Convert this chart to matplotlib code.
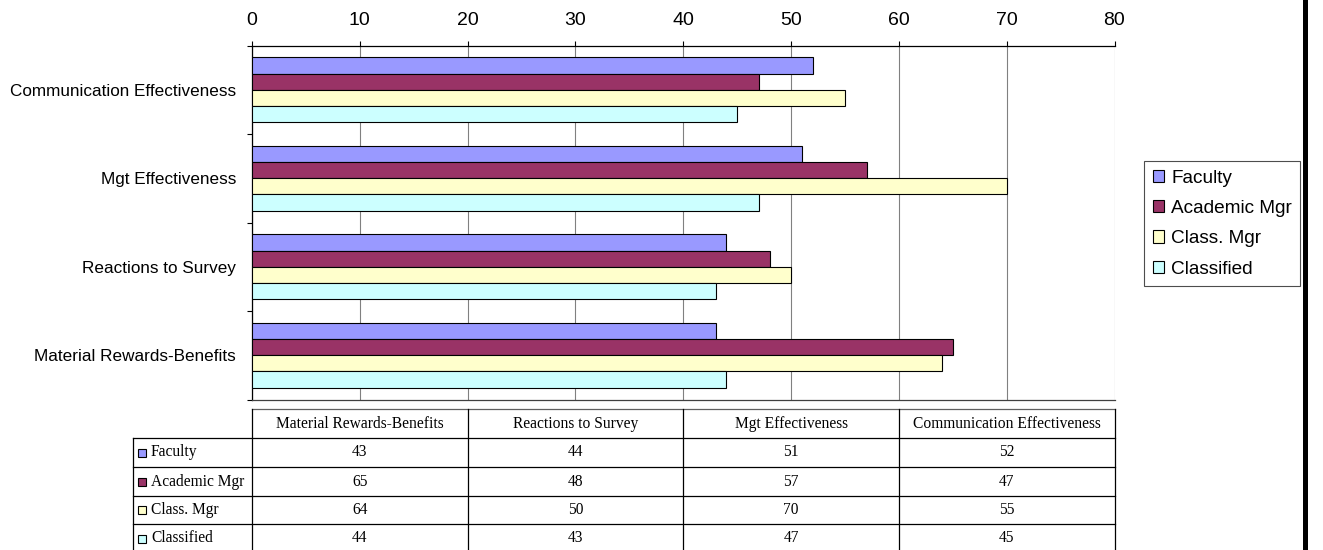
import matplotlib
matplotlib.use("Agg")
import matplotlib.pyplot as plt
from matplotlib.patches import Patch, Rectangle
from matplotlib.lines import Line2D

# ---- data ----
categories = ["Material Rewards-Benefits", "Reactions to Survey",
              "Mgt Effectiveness", "Communication Effectiveness"]
series_names = ["Faculty", "Academic Mgr", "Class. Mgr", "Classified"]
faculty = [43, 44, 51, 52]
academic_mgr = [65, 48, 57, 47]
class_mgr = [64, 50, 70, 55]
classified = [44, 43, 47, 45]
x_ticks = [0, 10, 20, 30, 40, 50, 60, 70, 80]

series_values = [faculty, academic_mgr, class_mgr, classified]
colors = ["#9999FF", "#993366", "#FFFFCC", "#CCFFFF"]

W, H = 1323, 550
fig = plt.figure(figsize=(W / 100, H / 100), dpi=100)
fig.patch.set_facecolor("white")

SANS = "Liberation Sans"
SERIF = "Liberation Serif"

# plot area in pixel coordinates
left, right, top, bottom = 252, 1114.5, 45.5, 399.5
ax = fig.add_axes([left / W, 1 - bottom / H, (right - left) / W, (bottom - top) / H])

bar_h = 0.183
n = len(series_names)
for i, (name, vals, col) in enumerate(zip(series_names, series_values, colors)):
    offset = (n / 2 - 0.5 - i) * bar_h
    ypos = [k + offset for k in range(len(categories))]
    ax.barh(ypos, vals, height=bar_h, color=col, edgecolor="black",
            linewidth=0.8, zorder=3, label=name)

ax.set_xlim(0, 80)
ax.set_ylim(-0.5, len(categories) - 0.5)
ax.set_xticks(x_ticks)
ax.xaxis.tick_top()
ax.tick_params(axis="x", which="both", top=True, bottom=False, length=3.6,
               width=0.8, pad=8, labelsize=14, colors="black")
for lbl in ax.get_xticklabels():
    lbl.set_fontfamily(SANS)
ax.xaxis.grid(True, color="#808080", linewidth=0.8, zorder=0)

ax.set_yticks(range(len(categories)))
ax.set_yticklabels(categories, fontfamily=SANS, fontsize=12.3)
ax.set_yticks([k - 0.5 for k in range(len(categories) + 1)], minor=True)
ax.tick_params(axis="y", which="major", length=0, pad=11.5)
ax.tick_params(axis="y", which="minor", length=3.6, width=0.8)

ax.spines["right"].set_visible(False)
ax.spines["top"].set_color("black")
ax.spines["left"].set_color("black")
ax.spines["bottom"].set_color("#404040")
for s in ax.spines.values():
    s.set_linewidth(0.9)

# legend
handles = [Patch(facecolor=c, edgecolor="black", linewidth=0.8) for c in colors]
leg = fig.legend(handles, series_names, loc="upper left",
                 bbox_to_anchor=(1144 / W, 1 - 161 / H),
                 prop={"family": SANS, "size": 13.7}, frameon=True, fancybox=False,
                 handlelength=0.62, handleheight=0.62, handletextpad=0.35,
                 labelspacing=0.7, borderpad=0.45, borderaxespad=0.0)
leg.get_frame().set_edgecolor("#202020")
leg.get_frame().set_linewidth(0.8)

# data table drawn in pixel space
tax = fig.add_axes([0, 0, 1, 1])
tax.set_xlim(0, W)
tax.set_ylim(H, 0)
tax.axis("off")

col_edges = [left + (right - left) * k / len(categories) for k in range(len(categories) + 1)]
row_edges = [409, 438, 467, 496, 524, 553]
label_left = 133

lc = "black"
lw = 0.9
tfs = 11.2
# header row lines
tax.add_line(Line2D([col_edges[0], col_edges[-1]], [row_edges[0]] * 2, color="#606060", lw=lw))
for r in row_edges[1:]:
    tax.add_line(Line2D([label_left, col_edges[-1]], [r] * 2, color=lc, lw=lw))
for c in col_edges:
    tax.add_line(Line2D([c, c], [row_edges[0], row_edges[-1]], color=lc, lw=lw))
tax.add_line(Line2D([label_left, label_left], [row_edges[1], row_edges[-1]], color=lc, lw=lw))

for j, cat in enumerate(categories):
    cx = (col_edges[j] + col_edges[j + 1]) / 2
    cy = (row_edges[0] + row_edges[1]) / 2
    tax.text(cx, cy, cat, ha="center", va="center", fontsize=tfs, family=SERIF)

for i, (name, vals, col) in enumerate(zip(series_names, series_values, colors)):
    cy = (row_edges[i + 1] + row_edges[i + 2]) / 2
    tax.add_patch(Rectangle((137.5, cy - 4), 8, 8, facecolor=col, edgecolor="black",
                            linewidth=0.8))
    tax.text(151, cy, name, ha="left", va="center", fontsize=tfs, family=SERIF)
    for j, v in enumerate(vals):
        cx = (col_edges[j] + col_edges[j + 1]) / 2
        tax.text(cx, cy, f"{v}", ha="center", va="center", fontsize=tfs, family=SERIF)

# black frame edge at right
fig.add_artist(Rectangle((1303 / W, 0), 5 / W, 1, transform=fig.transFigure,
                         facecolor="black", edgecolor="none"))

fig.savefig("out.png", dpi=100, facecolor="white")
